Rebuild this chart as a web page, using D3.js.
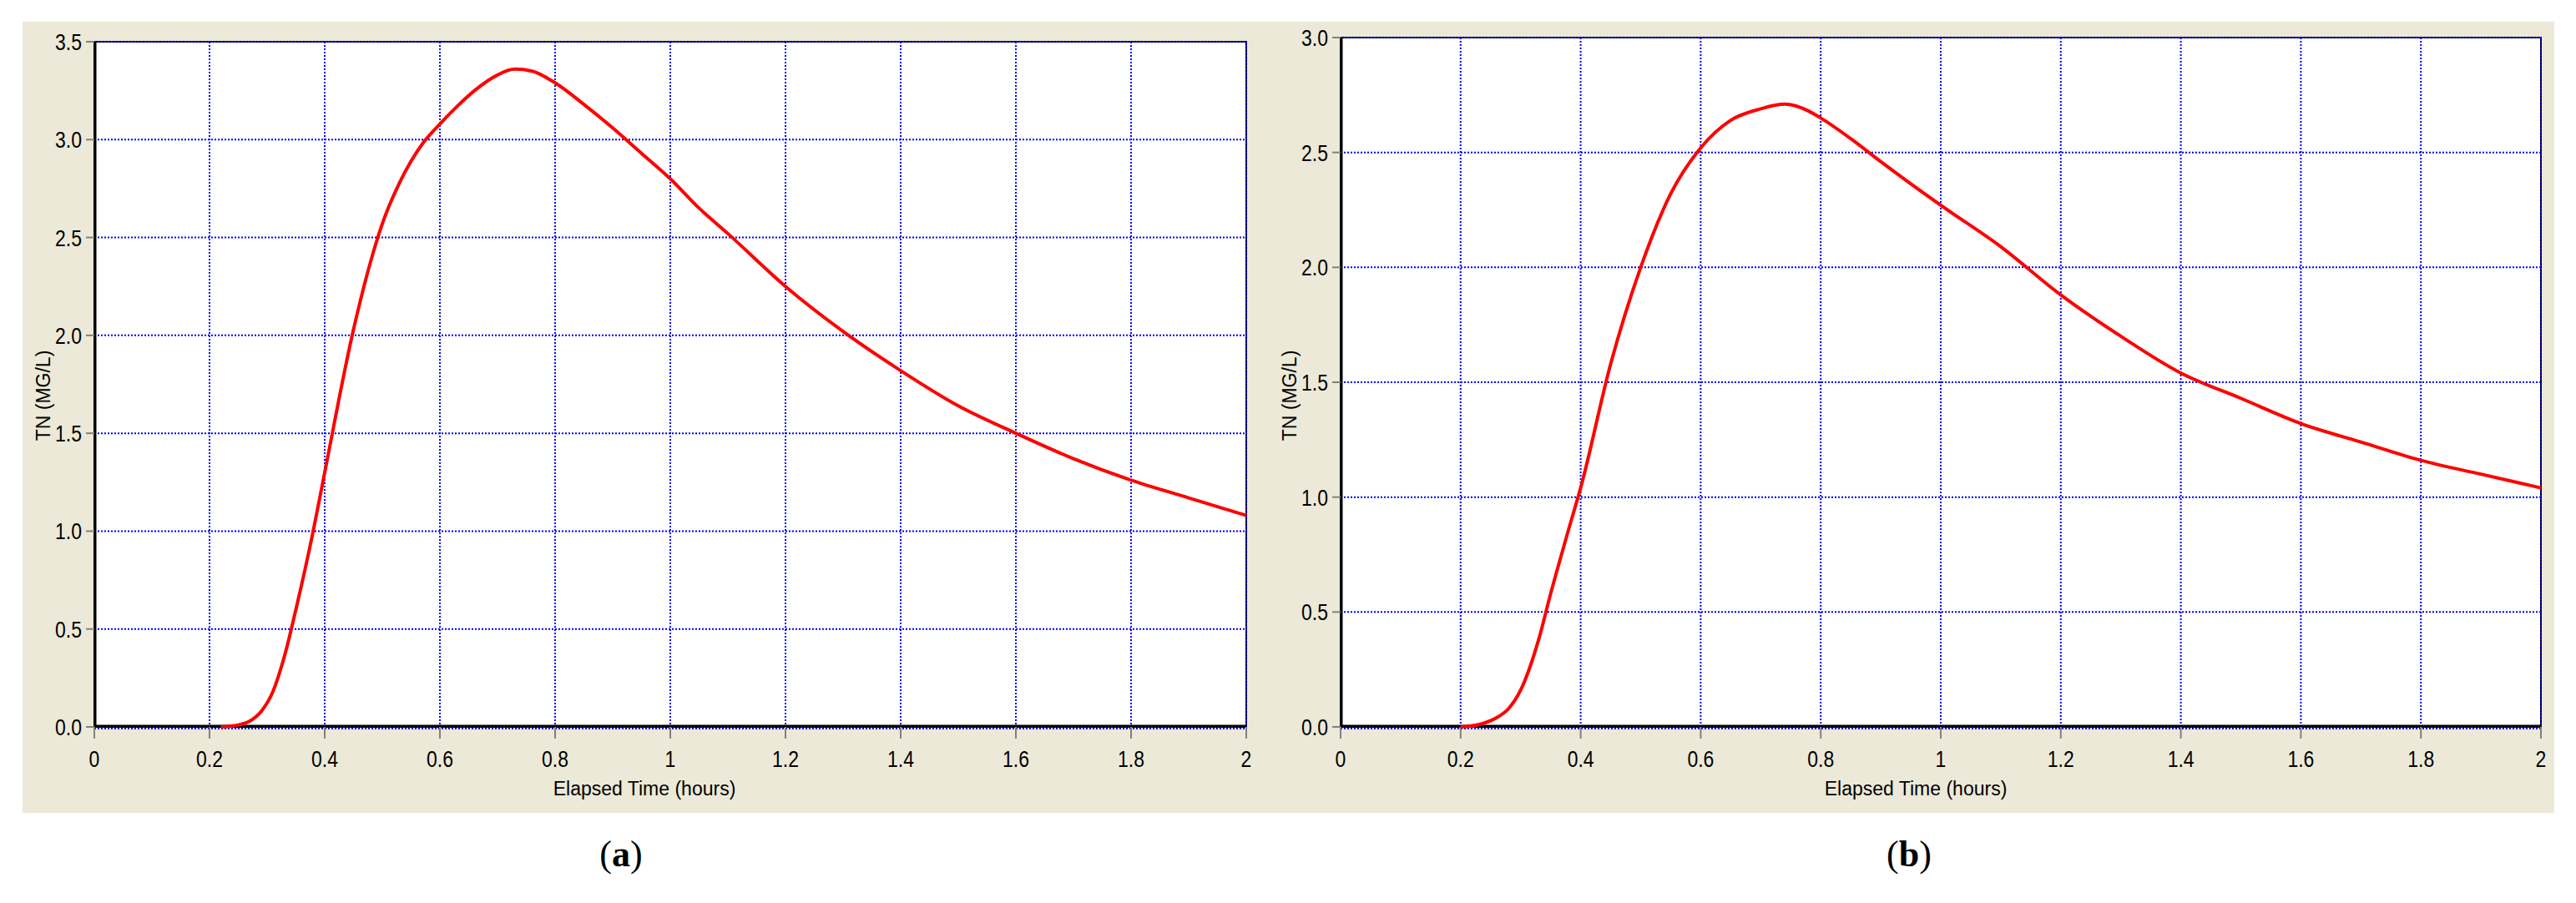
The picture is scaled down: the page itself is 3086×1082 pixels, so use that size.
<!DOCTYPE html>
<html>
<head>
<meta charset="utf-8">
<script src="https://cdn.jsdelivr.net/npm/d3@7"></script>
<style>
  body { margin: 0; background: #fff; }
</style>
</head>
<body>
<div id="chart"></div>
<script>
// values
var timeA = [0.22, 0.25, 0.27, 0.29, 0.31, 0.33, 0.35, 0.38, 0.40, 0.45, 0.48, 0.50, 0.53, 0.55, 0.57, 0.60, 0.63, 0.66, 0.70, 0.73, 0.76, 0.80, 0.85, 0.90, 0.95, 1.00, 1.05, 1.10, 1.20, 1.30, 1.40, 1.50, 1.60, 1.70, 1.80, 1.90, 2.00];
var tnA   = [0.00, 0.01, 0.03, 0.08, 0.18, 0.36, 0.60, 1.00, 1.30, 2.03, 2.38, 2.57, 2.78, 2.89, 2.98, 3.08, 3.17, 3.25, 3.33, 3.36, 3.35, 3.29, 3.18, 3.06, 2.93, 2.80, 2.65, 2.52, 2.25, 2.02, 1.82, 1.64, 1.50, 1.37, 1.26, 1.17, 1.08];

var timeB = [0.20, 0.23, 0.26, 0.28, 0.30, 0.33, 0.35, 0.38, 0.40, 0.45, 0.50, 0.55, 0.60, 0.65, 0.70, 0.74, 0.78, 0.80, 0.85, 0.90, 1.00, 1.10, 1.20, 1.30, 1.40, 1.50, 1.60, 1.70, 1.80, 1.90, 2.00];
var tnB   = [0.00, 0.01, 0.04, 0.08, 0.16, 0.38, 0.58, 0.86, 1.04, 1.58, 2.00, 2.32, 2.52, 2.64, 2.69, 2.71, 2.68, 2.65, 2.56, 2.46, 2.27, 2.09, 1.88, 1.70, 1.54, 1.43, 1.32, 1.24, 1.16, 1.10, 1.04];

var xTicks  = [0, 0.2, 0.4, 0.6, 0.8, 1, 1.2, 1.4, 1.6, 1.8, 2];
var yTicksA = [0, 0.5, 1, 1.5, 2, 2.5, 3, 3.5];
var yTicksB = [0, 0.5, 1, 1.5, 2, 2.5, 3];

var W = 3086, H = 1082;
var sans = "'Liberation Sans', Arial, sans-serif";
var serif = "'Liberation Serif', 'Times New Roman', serif";

var svg = d3.select("#chart").append("svg")
    .attr("width", W)
    .attr("height", H);

svg.append("rect").attr("width", W).attr("height", H).attr("fill", "#fff");

// beige window background
svg.append("rect")
    .attr("x", 27).attr("y", 26)
    .attr("width", 3033).attr("height", 948)
    .attr("fill", "#ECE9D8");

function drawPanel(p, xs, ys, yTicks, tag) {
    var x = d3.scaleLinear().domain([0, 2]).range([p.left, p.right]);
    var y = d3.scaleLinear().domain([0, yTicks[yTicks.length - 1]]).range([p.bottom, p.top]);

    var g = svg.append("g");

    // plot area
    g.append("rect")
        .attr("x", p.left).attr("y", p.top)
        .attr("width", p.right - p.left).attr("height", p.bottom - p.top)
        .attr("fill", "#fff")
        .attr("stroke", "#000")
        .attr("stroke-width", 2);

    // dotted blue grid
    g.selectAll(".hgrid").data(yTicks).enter().append("line")
        .attr("x1", p.left).attr("x2", p.right)
        .attr("y1", function(d) { return d === 0 ? y(d) + 2 : y(d); })
        .attr("y2", function(d) { return d === 0 ? y(d) + 2 : y(d); })
        .attr("stroke", "#0000ff").attr("stroke-width", 2)
        .attr("stroke-dasharray", "2,2");

    g.selectAll(".vgrid").data(xTicks.slice(1)).enter().append("line")
        .attr("x1", function(d) { return x(d); }).attr("x2", function(d) { return x(d); })
        .attr("y1", p.top).attr("y2", p.bottom)
        .attr("stroke", "#0000ff").attr("stroke-width", 2)
        .attr("stroke-dasharray", "2,2");

    // heavy left and bottom axis lines
    g.append("line")
        .attr("x1", p.left + 1).attr("x2", p.left + 1)
        .attr("y1", p.top).attr("y2", p.bottom)
        .attr("stroke", "#000").attr("stroke-width", 3);
    g.append("line")
        .attr("x1", p.left).attr("x2", p.right)
        .attr("y1", p.bottom - 1).attr("y2", p.bottom - 1)
        .attr("stroke", "#000").attr("stroke-width", 3);

    // ticks
    g.selectAll(".ytick").data(yTicks).enter().append("line")
        .attr("x1", p.left - 10).attr("x2", p.left)
        .attr("y1", function(d) { return y(d); }).attr("y2", function(d) { return y(d); })
        .attr("stroke", "#808080").attr("stroke-width", 2);
    g.selectAll(".xtick").data(xTicks).enter().append("line")
        .attr("x1", function(d) { return x(d); }).attr("x2", function(d) { return x(d); })
        .attr("y1", p.bottom).attr("y2", p.bottom + 14)
        .attr("stroke", "#808080").attr("stroke-width", 2);

    // tick labels (narrow, tall like the old pixel font)
    g.selectAll(".ylab").data(yTicks).enter().append("text")
        .attr("transform", function(d) { return "translate(" + (p.left - 15) + "," + (y(d) + 10) + ") scale(0.82,1)"; })
        .attr("text-anchor", "end")
        .style("font-family", sans)
        .style("font-size", "28px")
        .text(function(d) { return d3.format(".1f")(d); });
    g.selectAll(".xlab").data(xTicks).enter().append("text")
        .attr("transform", function(d) { return "translate(" + x(d) + "," + (p.bottom + 48) + ") scale(0.82,1)"; })
        .attr("text-anchor", "middle")
        .style("font-family", sans)
        .style("font-size", "28px")
        .text(function(d) { return String(d); });

    // axis titles
    g.append("text")
        .attr("transform", "translate(" + p.ylabX + "," + 474 + ") rotate(-90)")
        .attr("text-anchor", "middle")
        .style("font-family", sans)
        .style("font-size", "23px")
        .text("TN (MG/L)");
    g.append("text")
        .attr("x", p.xlabX).attr("y", 953)
        .attr("text-anchor", "middle")
        .style("font-family", sans)
        .style("font-size", "23px")
        .text("Elapsed Time (hours)");

    // curve
    var pts = xs.map(function(t, i) { return [t, ys[i]]; });
    var line = d3.line()
        .x(function(d) { return x(d[0]); })
        .y(function(d) { return y(d[1]); })
        .curve(d3.curveMonotoneX);
    g.append("path")
        .datum(pts)
        .attr("d", line)
        .attr("fill", "none")
        .attr("stroke", "#ff0000")
        .attr("stroke-width", 4);

    // panel tag below
    var t = svg.append("text")
        .attr("x", p.tagX).attr("y", 1038)
        .attr("text-anchor", "middle")
        .style("font-family", serif)
        .style("font-size", "44px");
    t.append("tspan").text("(");
    t.append("tspan").style("font-weight", "bold").text(tag);
    t.append("tspan").text(")");
}

drawPanel({left: 113, right: 1493, top: 50, bottom: 871, ylabX: 60, xlabX: 772, tagX: 744}, timeA, tnA, yTicksA, "a");
drawPanel({left: 1606, right: 3044, top: 45, bottom: 871, ylabX: 1553, xlabX: 2295, tagX: 2287}, timeB, tnB, yTicksB, "b");
</script>
</body>
</html>
